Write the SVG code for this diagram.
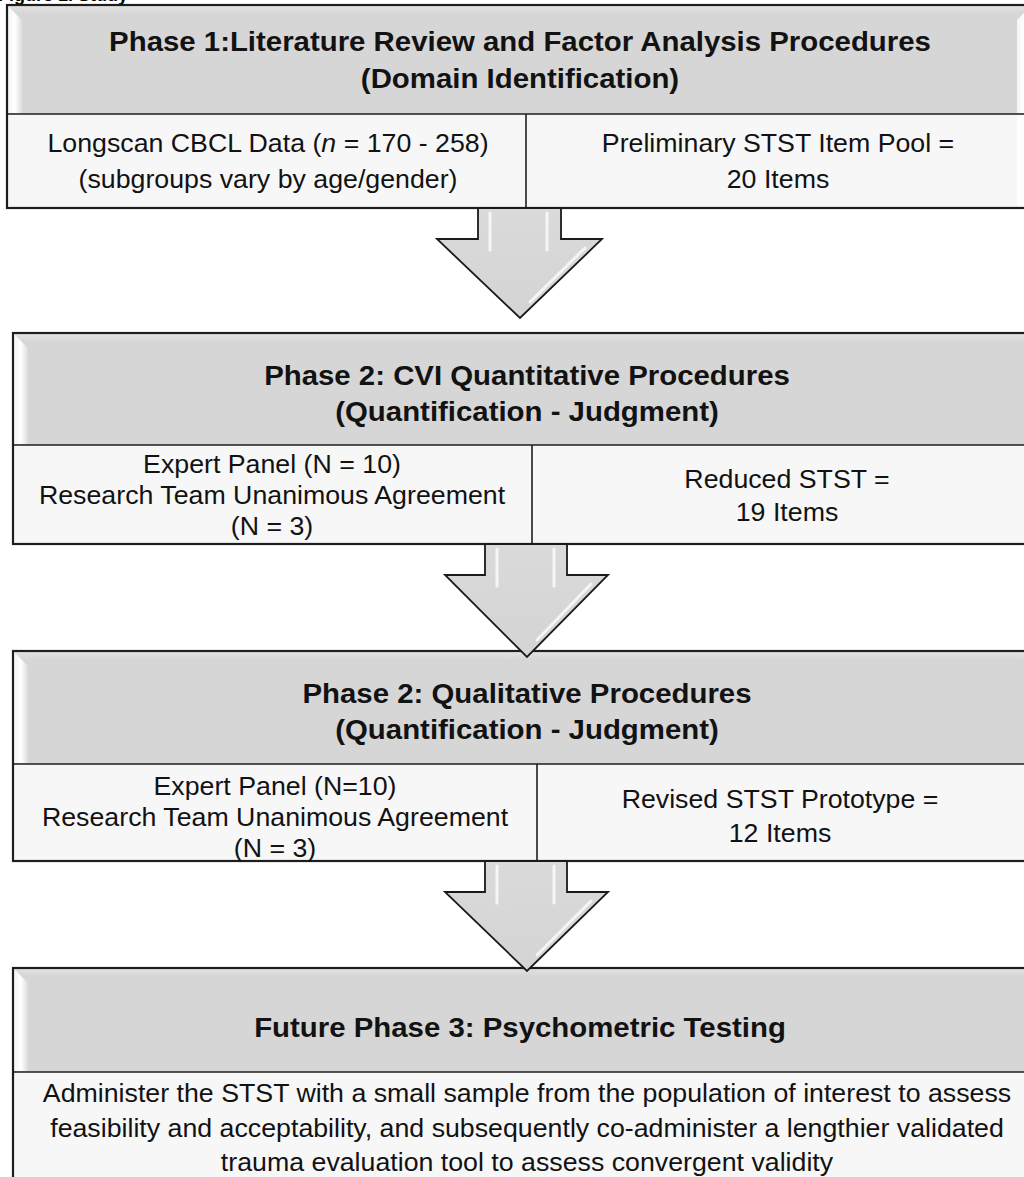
<svg xmlns="http://www.w3.org/2000/svg" width="1024" height="1177" viewBox="0 0 1024 1177">
<defs>
<linearGradient id="hdr" x1="0" y1="0" x2="0" y2="1">
<stop offset="0" stop-color="#e2e2e2"/>
<stop offset="0.08" stop-color="#d6d6d6"/>
<stop offset="1" stop-color="#d6d6d6"/>
</linearGradient>
<linearGradient id="bev" x1="0" y1="0" x2="1" y2="0">
<stop offset="0" stop-color="#f4f4f4"/>
<stop offset="0.5" stop-color="#ffffff"/>
<stop offset="1" stop-color="#dcdcdc"/>
</linearGradient>
<linearGradient id="arr" x1="0" y1="0" x2="0" y2="1">
<stop offset="0" stop-color="#dadada"/>
<stop offset="1" stop-color="#d4d4d4"/>
</linearGradient>
</defs>
<style>
.hdr{fill:url(#hdr);stroke:none}
.body{fill:#f7f7f7;stroke:none}
.frame{fill:none;stroke:#1e1e1e;stroke-width:2.2}
.div{stroke:#1e1e1e;stroke-width:1.6}
.bev{fill:url(#bev)}
.t{font-family:"Liberation Sans",Arial,sans-serif;font-weight:bold;font-size:28px;fill:#121212;text-anchor:middle}
.b{font-family:"Liberation Sans",Arial,sans-serif;font-size:25px;fill:#121212;text-anchor:middle}
.cap{font-family:"Liberation Sans",Arial,sans-serif;font-weight:bold;font-size:18px;fill:#000}
.arrow{fill:url(#arr);stroke:#1a1a1a;stroke-width:1.8;stroke-linejoin:miter}
.hl{stroke:#ffffff;stroke-width:3;opacity:0.75;fill:none;stroke-linecap:round}
</style>
<rect x="0" y="0" width="1024" height="1177" fill="#ffffff"/>
<text class="cap" x="-2" y="1">Figure 1. Study</text>

<g id="phase1">
<rect class="hdr" x="7" y="5" width="1025" height="109"/>
<rect class="body" x="7" y="114" width="1025" height="94"/>
<path class="bev" d="M8,6 L22,20 L22,113 L8,113 Z"/>
<path class="bev" d="M1031,6 L1017,20 L1017,113 L1031,113 Z"/>
<path d="M1017,116 L1024,116 L1024,206 L1017,206 Z" fill="#ffffff" opacity="0.8"/>
<rect class="frame" x="7" y="5" width="1025" height="203"/>
<line class="div" x1="7" y1="114" x2="1032" y2="114"/>
<line class="div" x1="526" y1="114" x2="526" y2="208"/>
<text class="t" transform="translate(520,51) scale(1.05,1)">Phase 1:Literature Review and Factor Analysis Procedures</text>
<text class="t" transform="translate(520,88) scale(1.05,1)">(Domain Identification)</text>
<text class="b" transform="translate(268,152) scale(1.07,1)">Longscan CBCL Data (<tspan font-style="italic">n</tspan> = 170 - 258)</text>
<text class="b" transform="translate(268,188) scale(1.07,1)">(subgroups vary by age/gender)</text>
<text class="b" transform="translate(778,152) scale(1.07,1)">Preliminary STST Item Pool =</text>
<text class="b" transform="translate(778,188) scale(1.07,1)">20 Items</text>
</g>

<g id="phase2a">
<rect class="hdr" x="13" y="333" width="1030" height="112"/>
<rect class="body" x="13" y="445" width="1030" height="99"/>
<path class="bev" d="M14,334 L28,348 L28,444 L14,444 Z"/>
<rect class="frame" x="13" y="333" width="1030" height="211"/>
<line class="div" x1="13" y1="445" x2="1043" y2="445"/>
<line class="div" x1="532" y1="445" x2="532" y2="544"/>
<text class="t" transform="translate(527,385) scale(1.05,1)">Phase 2: CVI Quantitative Procedures</text>
<text class="t" transform="translate(527,421) scale(1.05,1)">(Quantification - Judgment)</text>
<text class="b" transform="translate(272,473) scale(1.07,1)">Expert Panel (N = 10)</text>
<text class="b" transform="translate(272,504) scale(1.07,1)">Research Team Unanimous Agreement</text>
<text class="b" transform="translate(272,535) scale(1.07,1)">(N = 3)</text>
<text class="b" transform="translate(787,488) scale(1.07,1)">Reduced STST =</text>
<text class="b" transform="translate(787,521) scale(1.07,1)">19 Items</text>
</g>

<g id="phase2b">
<rect class="hdr" x="13" y="651" width="1030" height="113"/>
<rect class="body" x="13" y="764" width="1030" height="97"/>
<path class="bev" d="M14,652 L28,666 L28,763 L14,763 Z"/>
<rect class="frame" x="13" y="651" width="1030" height="210"/>
<line class="div" x1="13" y1="764" x2="1043" y2="764"/>
<line class="div" x1="537" y1="764" x2="537" y2="861"/>
<text class="t" transform="translate(527,703) scale(1.05,1)">Phase 2: Qualitative Procedures</text>
<text class="t" transform="translate(527,739) scale(1.05,1)">(Quantification - Judgment)</text>
<text class="b" transform="translate(275,795) scale(1.07,1)">Expert Panel (N=10)</text>
<text class="b" transform="translate(275,826) scale(1.07,1)">Research Team Unanimous Agreement</text>
<text class="b" transform="translate(275,857) scale(1.07,1)">(N = 3)</text>
<text class="b" transform="translate(780,808) scale(1.07,1)">Revised STST Prototype =</text>
<text class="b" transform="translate(780,842) scale(1.07,1)">12 Items</text>
</g>

<g id="phase3">
<rect class="hdr" x="13" y="968" width="1030" height="104"/>
<rect class="body" x="13" y="1072" width="1030" height="130"/>
<path class="bev" d="M14,969 L28,983 L28,1071 L14,1071 Z"/>
<rect class="frame" x="13" y="968" width="1030" height="240"/>
<line class="div" x1="13" y1="1072" x2="1043" y2="1072"/>
<text class="t" transform="translate(520,1037) scale(1.05,1)">Future Phase 3: Psychometric Testing</text>
<text class="b" transform="translate(527,1102) scale(1.07,1)">Administer the STST with a small sample from the population of interest to assess</text>
<text class="b" transform="translate(527,1137) scale(1.07,1)">feasibility and acceptability, and subsequently co-administer a lengthier validated</text>
<text class="b" transform="translate(527,1171) scale(1.07,1)">trauma evaluation tool to assess convergent validity</text>
</g>

<g id="connectors">
<g>
<polygon class="arrow" points="478,208 561,208 561,239 602,239 520,318 437,239 478,239"/>
<line class="hl" x1="490" y1="213" x2="490" y2="250"/>
<line class="hl" x1="547" y1="213" x2="547" y2="250"/>
<line class="hl" x1="585" y1="248" x2="530" y2="302"/>
</g>
<g>
<polygon class="arrow" points="485,544 567,544 567,575 608,575 527,657 445,575 485,575"/>
<line class="hl" x1="497" y1="549" x2="497" y2="586"/>
<line class="hl" x1="554" y1="549" x2="554" y2="586"/>
<line class="hl" x1="591" y1="584" x2="537" y2="640"/>
</g>
<g>
<polygon class="arrow" points="485,861 567,861 567,892 608,892 527,971 445,892 485,892"/>
<line class="hl" x1="497" y1="866" x2="497" y2="903"/>
<line class="hl" x1="554" y1="866" x2="554" y2="903"/>
<line class="hl" x1="591" y1="901" x2="537" y2="955"/>
</g>
</g>
</svg>
